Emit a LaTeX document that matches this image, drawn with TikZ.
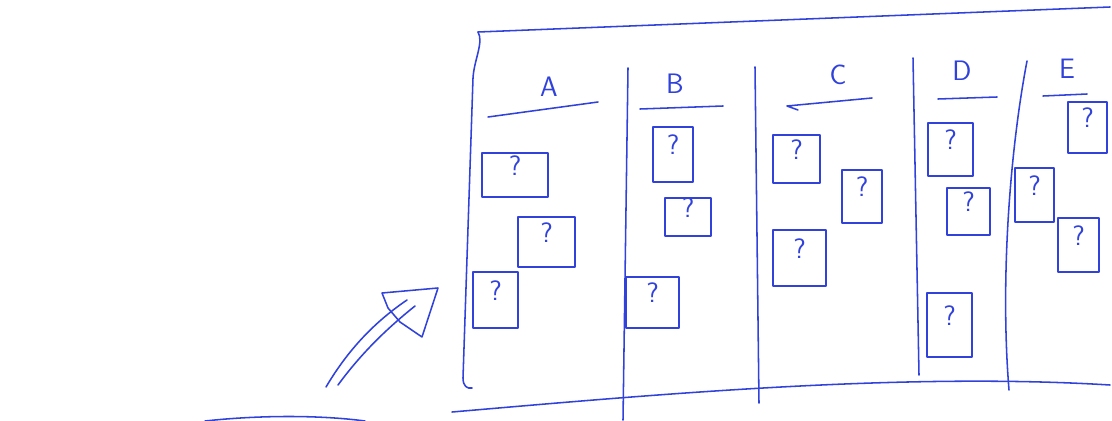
\documentclass[tikz,border=0pt]{standalone}
\usepackage{tikz}
\usetikzlibrary{arrows.meta,positioning,fit,calc}
\definecolor{penblue}{RGB}{48,66,218}
\begin{document}
\begin{tikzpicture}[
    x=0.025cm, y=-0.025cm,
    font=\sffamily\fontsize{20}{24}\selectfont,
    ink/.style={draw=penblue, line width=1.1pt, line cap=round, line join=round},
    note/.style={ink, line width=1.4pt, inner sep=0pt, text=penblue},
    head/.style={text=penblue, inner sep=0pt},
    uline/.style={ink, line width=1.1pt}
]
\useasboundingbox (0,0) rectangle (1112,421);

\draw[ink] (478,32) -- (1110,7);
\draw[ink] (478,32) .. controls (484,42) and (474,60) .. (473,78) -- (463,378) .. controls (463,386) and (467,389) .. (472,388);
\draw[ink] (452,412) .. controls (650,395) and (900,372) .. (1110,385);
\draw[ink] (205,421) .. controls (260,415) and (320,415) .. (365,421);

\draw[ink] (628,68) -- (623,420);
\draw[ink] (755,67) -- (759,403);
\draw[ink] (913,58) -- (919,375);
\draw[ink] (1027,61) .. controls (1010,150) and (1000,280) .. (1009,390);

\node[head] (hA) at (549,87) {A};
\node[head] (hB) at (675,84) {B};
\node[head] (hC) at (838,75) {C};
\node[head] (hD) at (962,71) {D};
\node[head] (hE) at (1067,69) {E};
\draw[uline] (488,117) -- (598,102);
\draw[uline] (640,109) -- (723,106);
\draw[uline] (798,110) -- (787,106) -- (872,98);
\draw[uline] (938,99) -- (997,97);
\draw[uline] (1043,96) -- (1087,94);

\node[note, fit={(482,153) (548,197)}] (a1) {?};
\node[note, fit={(518,217) (575,267)}] (a2) {?};
\node[note, fit={(473,272) (518,328)}] (a3) {?};
\node[note, fit={(653,127) (693,182)}] (b1) {?};
\node[note, fit={(665,198) (711,236)}] (b2) {?};
\node[note, fit={(626,277) (679,328)}] (b3) {?};
\node[note, fit={(773,135) (820,183)}] (c1) {?};
\node[note, fit={(842,170) (882,223)}] (c2) {?};
\node[note, fit={(773,230) (826,286)}] (c3) {?};
\node[note, fit={(928,123) (973,176)}] (d1) {?};
\node[note, fit={(947,188) (990,235)}] (d2) {?};
\node[note, fit={(927,293) (972,357)}] (d3) {?};
\node[note, fit={(1068,102) (1107,153)}] (e1) {?};
\node[note, fit={(1015,168) (1054,222)}] (e2) {?};
\node[note, fit={(1058,218) (1099,272)}] (e3) {?};

\draw[ink] (326,387) .. controls (345,355) and (370,325) .. (407,300);
\draw[ink] (338,385) .. controls (360,355) and (385,330) .. (415,306);
\draw[ink] (382,293) -- (438,288) -- (422,337) -- (400,322) -- (388,308) -- cycle;
\end{tikzpicture}
\end{document}
